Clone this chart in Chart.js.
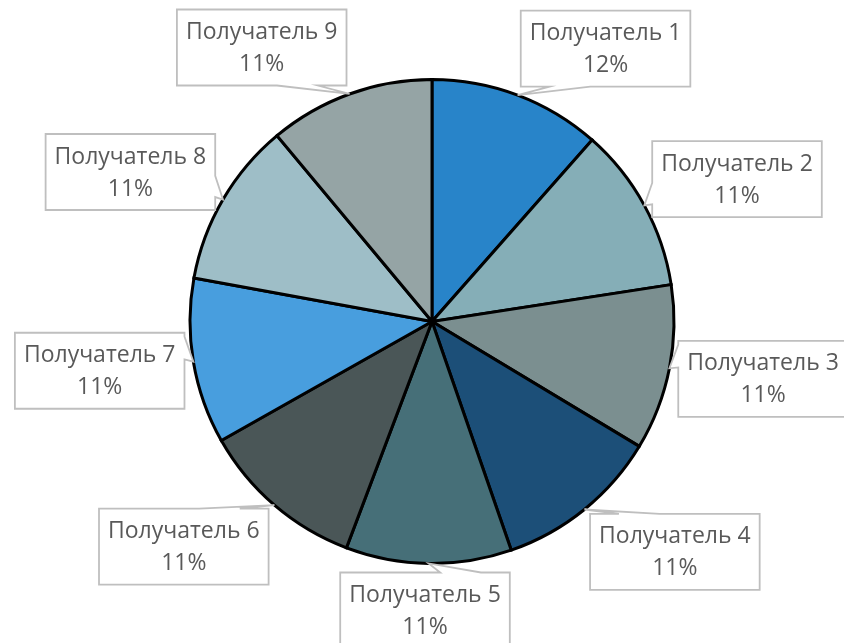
<!DOCTYPE html>
<html lang="ru">
<head>
<meta charset="UTF-8">
<title>Получатели</title>
<script src="https://cdn.jsdelivr.net/npm/chart.js"></script>
<style>
    html, body { margin: 0; padding: 0; background: #ffffff; }
    .wrap { width: 844px; height: 643px; }
</style>
</head>
<body>
<div class="wrap"><canvas id="pie"></canvas></div>
<script>
const recipients = ['Получатель 1', 'Получатель 2', 'Получатель 3', 'Получатель 4', 'Получатель 5',
                    'Получатель 6', 'Получатель 7', 'Получатель 8', 'Получатель 9'];
const shares = [11.5, 11.06, 11.06, 11.06, 11.06, 11.06, 11.06, 11.06, 11.06];
const sliceColors = ['#2884C9', '#85AEB7', '#7B8F90', '#1C4F78', '#466F78',
                     '#4A5657', '#489EDE', '#9EBEC7', '#95A4A5'];

const total = shares.reduce((a, b) => a + b, 0);
const percentLabels = shares.map(v => Math.round(v / total * 100) + '%');

const clamp = v => Math.max(-1, Math.min(1, v));

// excel-like callout boxes with a wedge pointing at the slice
const calloutPlugin = {
    id: 'callouts',
    afterDatasetsDraw(chart) {
        const ctx = chart.ctx;
        const arcs = chart.getDatasetMeta(0).data;
        ctx.save();
        ctx.font = '23px "Open Sans"';
        arcs.forEach((arc, i) => {
            const p = arc.getProps(['x', 'y', 'startAngle', 'endAngle', 'outerRadius'], true);
            const mid = (p.startAngle + p.endAngle) / 2;
            const dx = Math.cos(mid), dy = Math.sin(mid);
            const R = p.outerRadius;

            const lines = [recipients[i], percentLabels[i]];
            const tw = Math.max(...lines.map(t => ctx.measureText(t).width));
            const hw = tw / 2 + 9, hh = 38;

            const px = p.x + dx * (R + 9), py = p.y + dy * (R + 9);
            const cx = px + hw * clamp(dx * 3);
            const cy = py + hh * clamp(dy * 1.2);
            const tip = { x: p.x + dx * R, y: p.y + dy * R };

            const x0 = cx - hw, x1 = cx + hw, y0 = cy - hh, y1 = cy + hh;
            let edge, s0, s1;
            if (Math.abs(dy) > Math.abs(dx)) {
                edge = tip.y < cy ? 'top' : 'bottom';
                const L = x1 - x0;
                if (px < cx) { s0 = x0 + 0.17 * L; s1 = x0 + 0.41 * L; }
                else { s0 = x1 - 0.41 * L; s1 = x1 - 0.17 * L; }
            } else {
                edge = tip.x < cx ? 'left' : 'right';
                const L = y1 - y0;
                if (py < cy) { s0 = y0 + 0.05 * L; s1 = y0 + 0.35 * L; }
                else { s0 = y1 - 0.45 * L; s1 = y1 - 0.17 * L; }
            }

            ctx.beginPath();
            ctx.moveTo(x0, y0);
            if (edge === 'top') { ctx.lineTo(s0, y0); ctx.lineTo(tip.x, tip.y); ctx.lineTo(s1, y0); }
            ctx.lineTo(x1, y0);
            if (edge === 'right') { ctx.lineTo(x1, s0); ctx.lineTo(tip.x, tip.y); ctx.lineTo(x1, s1); }
            ctx.lineTo(x1, y1);
            if (edge === 'bottom') { ctx.lineTo(s1, y1); ctx.lineTo(tip.x, tip.y); ctx.lineTo(s0, y1); }
            ctx.lineTo(x0, y1);
            if (edge === 'left') { ctx.lineTo(x0, s1); ctx.lineTo(tip.x, tip.y); ctx.lineTo(x0, s0); }
            ctx.closePath();
            ctx.fillStyle = '#ffffff';
            ctx.fill();
            ctx.lineWidth = 1.8;
            ctx.strokeStyle = '#BFBFBF';
            ctx.stroke();

            ctx.fillStyle = '#595959';
            ctx.textAlign = 'center';
            ctx.textBaseline = 'middle';
            ctx.fillText(lines[0], cx, cy - 15);
            ctx.fillText(lines[1], cx, cy + 17);
        });
        ctx.restore();
    }
};

new Chart(document.getElementById('pie'), {
    type: 'pie',
    data: {
        labels: recipients,
        datasets: [{
            data: shares,
            backgroundColor: sliceColors,
            borderColor: '#000000',
            borderWidth: 3,
            hoverBorderWidth: 3,
            borderJoinStyle: 'miter'
        }]
    },
    options: {
        responsive: true,
        maintainAspectRatio: false,
        animation: false,
        layout: { padding: { top: 78, bottom: 78, left: 188, right: 168 } },
        plugins: {
            legend: { display: false },
            tooltip: { enabled: false }
        }
    },
    plugins: [calloutPlugin]
});
</script>
</body>
</html>
